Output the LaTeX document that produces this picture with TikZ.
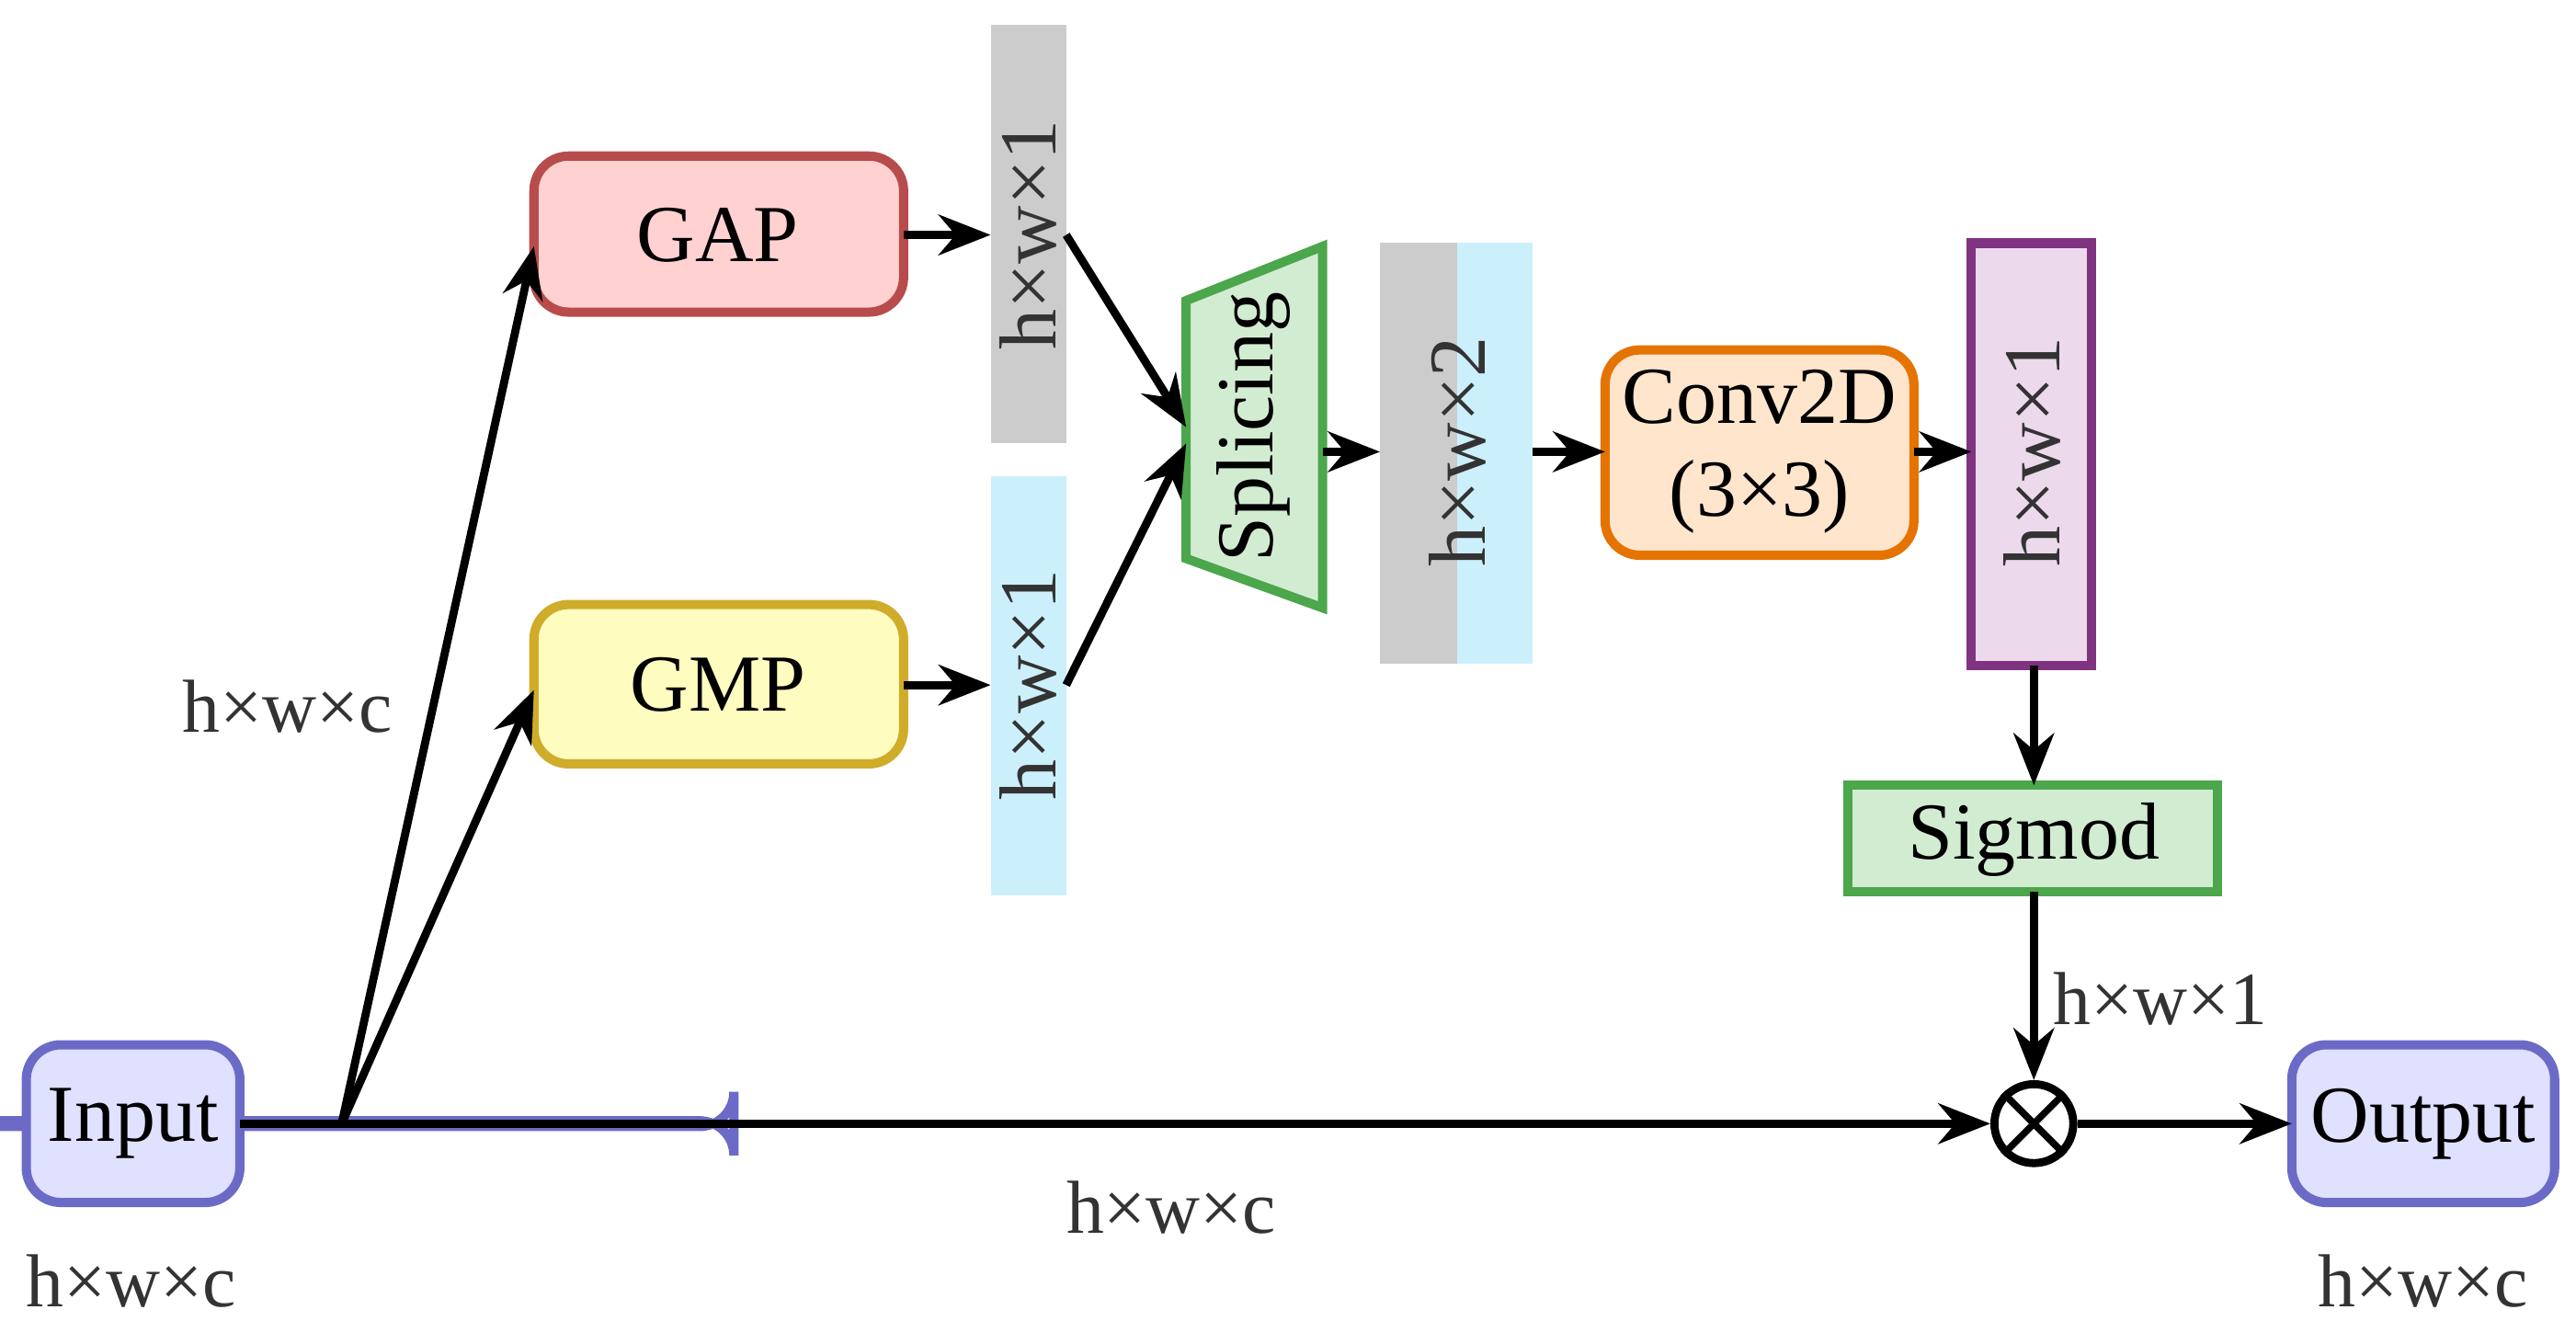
\documentclass[tikz,border=0pt]{standalone}
\usepackage{fontspec}
\setmainfont{Liberation Serif}
\usetikzlibrary{arrows.meta}
\definecolor{tx}{HTML}{333333}
\begin{document}
\begin{tikzpicture}[x=0.01cm,y=-0.01cm,
  box/.style={draw,line width=1.6pt,rounded corners=6pt,font=\fontsize{14}{16}\selectfont,inner sep=0pt},
  bar/.style={inner sep=0pt,font=\fontsize{14}{16}\selectfont,text=tx},
  lab/.style={font=\fontsize{13}{15}\selectfont,text=tx},
  arr/.style={-{Stealth[length=9pt,width=7pt]},line width=1.4pt}]
\useasboundingbox (0,0) rectangle (1568,818);
\node[box,draw=blue!45!gray!80,fill=blue!12,minimum width=130\pgflinewidth] (in) at (81,684) {};
\path[box,draw=blue!45!gray!80,fill=blue!12] (16,636) rectangle (146,732);
\node[font=\fontsize{14}{16}\selectfont] (inp) at (81,684) {Input};
\coordinate (inr) at (146,684);
\path[box,draw=blue!45!gray!80,fill=blue!12] (1395,636) rectangle (1555,732);
\node[font=\fontsize{14}{16}\selectfont] (out) at (1475,684) {Output};
\coordinate (outl) at (1395,684);
\node[lab] (l1) at (80,780) {h×w×c};
\node[lab] (l2) at (1475,780) {h×w×c};
\node[lab] (l3) at (713,735) {h×w×c};
\node[lab] (l4) at (175,430) {h×w×c};
\node[lab] (l5) at (1315,608) {h×w×1};
\path[box,draw=red!60!black!70,fill=red!18] (325,95) rectangle (550,190);
\node[font=\fontsize{14}{16}\selectfont] (gap) at (437,143) {GAP};
\path[box,draw=yellow!60!orange!80!black,fill=yellow!25] (325,368) rectangle (550,465);
\node[font=\fontsize{14}{16}\selectfont] (gmp) at (437,417) {GMP};
\fill[gray!40] (603,15) rectangle (649,270);
\node[bar,rotate=90] (b1) at (626,143) {h×w×1};
\fill[cyan!20] (603,290) rectangle (649,545);
\node[bar,rotate=90] (b2) at (626,417) {h×w×1};
\draw[line width=1.6pt,draw=green!50!black!70,fill=green!40!gray!25] (722,183) -- (805,150) -- (805,370) -- (722,340) -- cycle;
\node[rotate=90,font=\fontsize{14}{16}\selectfont] (spl) at (763,260) {Splicing};
\fill[gray!40] (840,148) rectangle (887,404);
\fill[cyan!20] (887,148) rectangle (933,404);
\node[bar,rotate=90] (b3) at (887,275) {h×w×2};
\path[box,draw=orange!90!black,fill=orange!20] (977,213) rectangle (1165,338);
\node[align=center,font=\fontsize{14}{16}\selectfont] (conv) at (1071,275) {Conv2D\\(3×3)};
\draw[line width=1.6pt,draw=violet!60!gray,fill=violet!15] (1200,148) rectangle (1273,405);
\node[bar,rotate=90] (b4) at (1237,275) {h×w×1};
\draw[line width=1.6pt,draw=green!50!black!70,fill=green!40!gray!25] (1125,478) rectangle (1350,543);
\node[font=\fontsize{14}{16}\selectfont] (sig) at (1238,511) {Sigmod};
\node[circle,draw,line width=1.4pt,minimum size=48\pgflinewidth,inner sep=0pt,minimum size=0.48cm] (m) at (1238,684) {};
\draw[line width=1.2pt] (m.north west) -- (m.south east) (m.north east) -- (m.south west);
\coordinate (br) at (208,684);
\draw[line width=1.4pt] (inr) -- (br);
\draw[arr] (br) -- (m.west);
\draw[arr] (m.east) -- (outl);
\draw[arr] (br) -- (325,150);
\draw[arr] (br) -- (325,420);
\draw[arr] (550,143) -- (603,143);
\draw[arr] (550,417) -- (603,417);
\draw[arr] (649,143) -- (722,260);
\draw[arr] (649,417) -- (722,270);
\draw[arr] (805,275) -- (840,275);
\draw[arr] (933,275) -- (977,275);
\draw[arr] (1165,275) -- (1200,275);
\draw[arr] (1238,405) -- (1238,478);
\draw[arr] (1238,543) -- (m.north);
\end{tikzpicture}
\end{document}
